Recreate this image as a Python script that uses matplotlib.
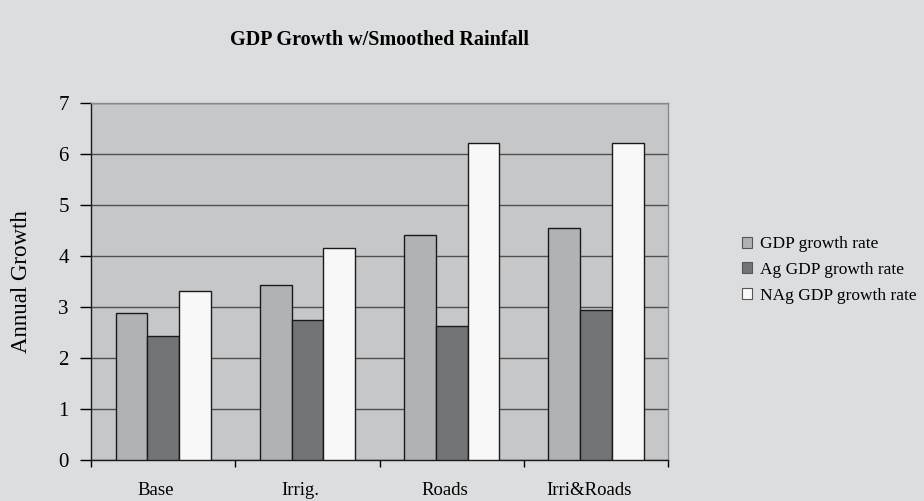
import matplotlib
matplotlib.use("Agg")
import matplotlib.pyplot as plt
import numpy as np

categories = ["Base", "Irrig.", "Roads", "Irri&Roads"]
gdp = [2.89, 3.44, 4.42, 4.56]
ag_gdp = [2.44, 2.74, 2.63, 2.94]
nag_gdp = [3.31, 4.16, 6.22, 6.22]
series_names = ["GDP growth rate", "Ag GDP growth rate", "NAg GDP growth rate"]
yticks = [0, 1, 2, 3, 4, 5, 6, 7]

plt.rcParams['font.family'] = ['Liberation Serif', 'DejaVu Serif']

fig = plt.figure(figsize=(9.24, 5.01), dpi=100)
fig.patch.set_facecolor("#dcdddf")
ax = fig.add_axes([0.0985, 0.082, 0.6245, 0.712])
ax.set_facecolor("#c6c7c9")

x = np.arange(len(categories)) + 0.5
w = 0.22
colors = ["#b1b2b5", "#737478", "#f8f8f8"]
for i, (vals, c, name) in enumerate(zip([gdp, ag_gdp, nag_gdp], colors, series_names)):
    ax.bar(x + (i - 1) * w, vals, width=w, color=c, edgecolor="#1a1a1a",
           linewidth=1.0, label=name, zorder=3)

ax.set_xlim(0, len(categories))
ax.set_ylim(0, 7)
ax.set_yticks(yticks)
ax.set_yticklabels([str(v) for v in yticks], fontsize=15)
ax.yaxis.grid(True, color="#505050", linewidth=1.0, zorder=0)
ax.set_axisbelow(True)

ax.set_xticks(np.arange(len(categories) + 1))
ax.set_xticklabels([])
ax.set_xticks(x - 0.05, minor=True)
ax.set_xticklabels(categories, minor=True, fontsize=13.5)
ax.tick_params(axis="x", which="minor", length=0, pad=16)
ax.tick_params(axis="x", which="major", length=5, direction="out", width=1)
ax.tick_params(axis="y", length=8, direction="out", width=1, pad=8)

for s in ["left", "bottom"]:
    ax.spines[s].set_color("#1a1a1a")
    ax.spines[s].set_linewidth(1.0)
for s in ["top", "right"]:
    ax.spines[s].set_color("#8a8a8a")
    ax.spines[s].set_linewidth(1.0)

ax.set_ylabel("Annual Growth", fontsize=16.5)
ax.yaxis.set_label_coords(-0.103, 0.5)

fig.text(0.411, 0.92, "GDP Growth w/Smoothed Rainfall", ha="center", va="center",
         fontsize=14.5, fontweight="bold")

leg = fig.legend(loc="center left", bbox_to_anchor=(0.803, 0.461), frameon=False,
                 fontsize=12.5, handlelength=0.6, handleheight=0.6,
                 handletextpad=0.45, labelspacing=0.55, borderpad=0, borderaxespad=0)
for h in leg.legend_handles:
    h.set_edgecolor("#555555")
    h.set_linewidth(0.8)

fig.savefig("out.png", dpi=100, facecolor=fig.get_facecolor())
